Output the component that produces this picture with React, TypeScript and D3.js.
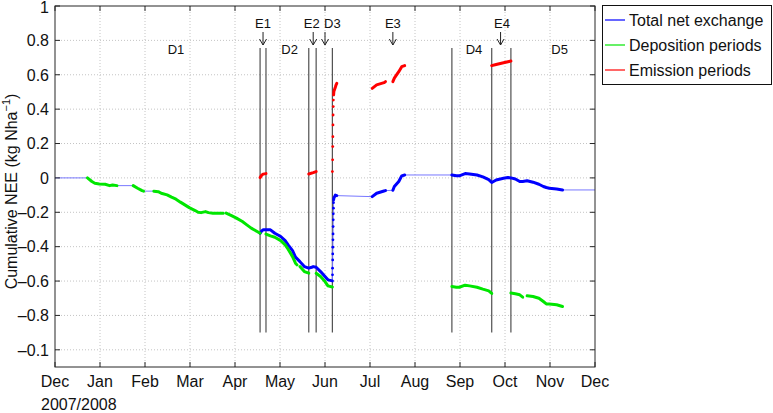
import * as d3 from "d3";
import { useEffect, useRef } from "react";

type Pt = [string, number];

const monthLabels = ["Dec", "Jan", "Feb", "Mar", "Apr", "May", "Jun", "Jul", "Aug", "Sep", "Oct", "Nov", "Dec"];
const yTicks = [1, 0.8, 0.6, 0.4, 0.2, 0, -0.2, -0.4, -0.6, -0.8, -1];
const yTickLabels = ["1", "0.8", "0.6", "0.4", "0.2", "0", "–0.2", "–0.4", "–0.6", "–0.8", "–0.1"];

const totalStart: Pt = ["2007-12-01", 0];
const totalEnd: Pt = ["2008-12-01", -0.07];

// D1: no emission yet, total == deposition
const winterDeposition: Pt[][] = [
  [["2007-12-23", 0], ["2007-12-26", -0.021], ["2007-12-28", -0.031], ["2007-12-31", -0.035], ["2008-01-04", -0.037], ["2008-01-07", -0.045], ["2008-01-09", -0.041], ["2008-01-12", -0.045]],
  [["2008-01-23", -0.045], ["2008-01-26", -0.06], ["2008-01-29", -0.074], ["2008-01-30", -0.077]],
  [["2008-02-06", -0.077], ["2008-02-09", -0.08], ["2008-02-11", -0.089], ["2008-02-15", -0.099], ["2008-02-18", -0.112], ["2008-02-21", -0.124], ["2008-02-24", -0.141], ["2008-02-27", -0.157], ["2008-03-01", -0.173], ["2008-03-05", -0.19], ["2008-03-07", -0.2], ["2008-03-09", -0.202], ["2008-03-12", -0.196], ["2008-03-14", -0.202], ["2008-03-17", -0.205], ["2008-03-22", -0.205], ["2008-03-24", -0.205]],
  [["2008-03-26", -0.205], ["2008-03-30", -0.221], ["2008-04-02", -0.234], ["2008-04-06", -0.254], ["2008-04-09", -0.273], ["2008-04-12", -0.292], ["2008-04-16", -0.312], ["2008-04-18", -0.322]],
];

const laterDeposition: Pt[][] = [
  [["2008-04-22", -0.327], ["2008-04-25", -0.337], ["2008-04-28", -0.345], ["2008-05-02", -0.365], ["2008-05-05", -0.39], ["2008-05-07", -0.415], ["2008-05-10", -0.458], ["2008-05-12", -0.496], ["2008-05-13", -0.506]],
  [["2008-05-15", -0.516], ["2008-05-18", -0.545], ["2008-05-21", -0.554]],
  [["2008-05-26", -0.555], ["2008-05-29", -0.574], ["2008-06-01", -0.603], ["2008-06-03", -0.628], ["2008-06-06", -0.635]],
  [["2008-08-26", -0.632], ["2008-08-29", -0.636], ["2008-08-31", -0.636], ["2008-09-04", -0.624], ["2008-09-07", -0.628], ["2008-09-12", -0.636], ["2008-09-16", -0.647], ["2008-09-20", -0.657], ["2008-09-22", -0.672]],
  [["2008-10-05", -0.67], ["2008-10-08", -0.674], ["2008-10-11", -0.68], ["2008-10-13", -0.694]],
  [["2008-10-16", -0.686], ["2008-10-20", -0.69], ["2008-10-24", -0.7], ["2008-10-27", -0.719], ["2008-10-29", -0.733], ["2008-10-31", -0.734], ["2008-11-05", -0.738], ["2008-11-09", -0.748]],
];

const emissionSegments: Pt[][] = [
  [["2008-04-18", 0.002], ["2008-04-19", 0.015], ["2008-04-20", 0.022], ["2008-04-22", 0.025]],
  [["2008-05-21", 0.023], ["2008-05-24", 0.031], ["2008-05-26", 0.037]],
  [["2008-06-06T20", 0.483], ["2008-06-07", 0.502], ["2008-06-08", 0.527], ["2008-06-08T12", 0.541], ["2008-06-09", 0.55]],
  [["2008-07-03", 0.521], ["2008-07-06", 0.541], ["2008-07-11", 0.554], ["2008-07-12", 0.56]],
  [["2008-07-17", 0.56], ["2008-07-18", 0.58], ["2008-07-21", 0.618], ["2008-07-23", 0.647], ["2008-07-25", 0.653]],
  [["2008-09-22", 0.653], ["2008-09-25", 0.66], ["2008-09-30", 0.67], ["2008-10-03", 0.676], ["2008-10-05", 0.68]],
];

// sparse half-hourly samples during the June burst
const emissionJump: Pt[] = [
  ["2008-06-06T00", 0.037], ["2008-06-06T04", 0.105], ["2008-06-06T06", 0.182], ["2008-06-06T08", 0.24],
  ["2008-06-06T10", 0.308], ["2008-06-06T12", 0.366], ["2008-06-06T14", 0.415], ["2008-06-06T16", 0.453],
];

const totalSegments: Pt[][] = [
  [["2008-04-18", -0.322], ["2008-04-19", -0.31], ["2008-04-20", -0.302], ["2008-04-22", -0.302], ["2008-04-25", -0.302], ["2008-04-28", -0.322], ["2008-05-02", -0.341], ["2008-05-05", -0.365], ["2008-05-07", -0.39], ["2008-05-10", -0.423], ["2008-05-12", -0.461], ["2008-05-15", -0.487], ["2008-05-18", -0.516], ["2008-05-21", -0.525], ["2008-05-23", -0.52], ["2008-05-24", -0.516], ["2008-05-26", -0.52], ["2008-05-29", -0.545], ["2008-06-01", -0.574], ["2008-06-03", -0.593], ["2008-06-06", -0.599]],
  [["2008-06-06T20", -0.128], ["2008-06-07", -0.118], ["2008-06-08", -0.1], ["2008-06-09", -0.103]],
  [["2008-07-03", -0.109], ["2008-07-06", -0.089], ["2008-07-11", -0.076], ["2008-07-12", -0.074]],
  [["2008-07-17", -0.072], ["2008-07-18", -0.05], ["2008-07-21", -0.021], ["2008-07-23", 0.012], ["2008-07-25", 0.017]],
  [["2008-08-26", 0.017], ["2008-08-29", 0.012], ["2008-08-31", 0.012], ["2008-09-04", 0.025], ["2008-09-07", 0.023], ["2008-09-12", 0.017], ["2008-09-16", 0.006], ["2008-09-20", -0.01], ["2008-09-22", -0.027], ["2008-09-25", -0.012], ["2008-09-30", -0.002], ["2008-10-03", 0.002], ["2008-10-05", 0], ["2008-10-08", -0.006], ["2008-10-11", -0.021], ["2008-10-13", -0.021], ["2008-10-16", -0.017], ["2008-10-20", -0.025], ["2008-10-24", -0.037], ["2008-10-27", -0.05], ["2008-10-29", -0.056], ["2008-10-31", -0.06], ["2008-11-05", -0.064], ["2008-11-09", -0.07]],
];

const totalJump: Pt[] = [
  ["2008-06-06T02", -0.564], ["2008-06-06T03", -0.525], ["2008-06-06T05", -0.477], ["2008-06-06T06", -0.442],
  ["2008-06-06T08", -0.403], ["2008-06-06T09", -0.36], ["2008-06-06T11", -0.326], ["2008-06-06T12", -0.283],
  ["2008-06-06T14", -0.244], ["2008-06-06T15", -0.209], ["2008-06-06T17", -0.176], ["2008-06-06T18", -0.144],
];

const boundaries = ["2008-04-18", "2008-04-22", "2008-05-21", "2008-05-26", "2008-06-06", "2008-08-26", "2008-09-22", "2008-10-05"];
const boundaryRange = [0.755, -0.9];

const eventLabels = [
  { text: "E1", at: "2008-04-20", arrow: "2008-04-20" },
  { text: "E2", at: "2008-05-23", arrow: "2008-05-24" },
  { text: "D3", at: "2008-06-06", arrow: "2008-06-01" },
  { text: "E3", at: "2008-07-17", arrow: "2008-07-17" },
  { text: "E4", at: "2008-09-29", arrow: "2008-09-28" },
];
const periodLabels = [
  { text: "D1", at: "2008-02-21" },
  { text: "D2", at: "2008-05-08" },
  { text: "D4", at: "2008-09-10" },
  { text: "D5", at: "2008-11-07" },
];

const legendItems = [
  { label: "Total net exchange", color: "#0000ff" },
  { label: "Deposition periods", color: "#00e600" },
  { label: "Emission periods", color: "#ff0000" },
];

const parseDay = d3.timeParse("%Y-%m-%d");
const parseHour = d3.timeParse("%Y-%m-%dT%H");
const parse = (s: string) => (s.length > 10 ? parseHour(s) : parseDay(s))!;

const FONT = "'Liberation Sans', Arial, Helvetica, sans-serif";

export default function App() {
  const ref = useRef<SVGSVGElement | null>(null);

  useEffect(() => {
    if (!ref.current) return;
    const svg = d3.select(ref.current);
    svg.selectAll("*").remove();

    const W = 773, H = 413;
    const margin = { top: 6, right: 178, bottom: 46, left: 55 };
    const x0 = margin.left, x1 = W - margin.right;
    const y0 = margin.top, y1 = H - margin.bottom;

    svg.attr("width", W).attr("height", H).style("font-family", FONT);

    const start = parse(totalStart[0]);
    const end = parse(totalEnd[0]);
    const x = d3.scaleTime().domain([start, end]).range([x0, x1]);
    const y = d3.scaleLinear().domain([-1.1, 1]).range([y1, y0]);

    const step = (end.getTime() - start.getTime()) / (monthLabels.length - 1);
    const xTicks = monthLabels.map((_, i) => new Date(start.getTime() + i * step));

    const line = d3
      .line<Pt>()
      .x((d) => x(parse(d[0])))
      .y((d) => y(d[1]));

    // grid
    const grid = svg.append("g").attr("stroke", "#c4c4c4").attr("stroke-dasharray", "1,2").attr("stroke-width", 1);
    xTicks.slice(1, -1).forEach((t) => {
      grid.append("line").attr("x1", x(t)).attr("x2", x(t)).attr("y1", y0).attr("y2", y1);
    });
    yTicks.forEach((v) => {
      if (y(v) <= y0 + 1) return;
      grid.append("line").attr("x1", x0).attr("x2", x1).attr("y1", y(v)).attr("y2", y(v));
    });

    // period boundaries
    svg
      .append("g")
      .selectAll("line")
      .data(boundaries)
      .enter()
      .append("line")
      .attr("x1", (d) => x(parse(d)))
      .attr("x2", (d) => x(parse(d)))
      .attr("y1", y(boundaryRange[0]))
      .attr("y2", y(boundaryRange[1]))
      .attr("stroke", "#505050")
      .attr("stroke-width", 1.2);

    // thin interpolated total line
    const thin = [totalStart, ...winterDeposition.flat(), ...totalSegments.flat(), ...totalJump, totalEnd].sort(
      (a, b) => parse(a[0]).getTime() - parse(b[0]).getTime()
    );
    svg.append("path").attr("d", line(thin)).attr("fill", "none").attr("stroke", "#7878ff").attr("stroke-width", 1);

    const drawSegments = (segs: Pt[][], color: string) => {
      svg
        .append("g")
        .selectAll("path")
        .data(segs)
        .enter()
        .append("path")
        .attr("d", (d) => line(d))
        .attr("fill", "none")
        .attr("stroke", color)
        .attr("stroke-width", 3)
        .attr("stroke-linecap", "round")
        .attr("stroke-linejoin", "round");
    };
    const drawDots = (pts: Pt[], color: string) => {
      svg
        .append("g")
        .selectAll("circle")
        .data(pts)
        .enter()
        .append("circle")
        .attr("cx", (d) => x(parse(d[0])))
        .attr("cy", (d) => y(d[1]))
        .attr("r", 1.4)
        .attr("fill", color);
    };

    drawSegments(totalSegments, legendItems[0].color);
    drawDots(totalJump, legendItems[0].color);
    drawSegments(winterDeposition, legendItems[1].color);
    drawSegments(laterDeposition, legendItems[1].color);
    drawSegments(emissionSegments, legendItems[2].color);
    drawDots(emissionJump, legendItems[2].color);

    // annotations
    const ann = svg.append("g").attr("font-size", 13).attr("fill", "#111").attr("text-anchor", "middle");
    eventLabels.forEach((e) => {
      ann.append("text").attr("x", x(parse(e.at))).attr("y", y0 + 22).text(e.text);
      const ax = x(parse(e.arrow));
      ann
        .append("path")
        .attr("d", `M${ax},${y0 + 26}V${y0 + 39}M${ax - 3.5},${y0 + 33}L${ax},${y0 + 39}L${ax + 3.5},${y0 + 33}`)
        .attr("fill", "none")
        .attr("stroke", "#222")
        .attr("stroke-width", 1);
    });
    periodLabels.forEach((p) => {
      ann.append("text").attr("x", x(parse(p.at))).attr("y", y0 + 48).text(p.text);
    });

    // axes box + ticks
    const axis = svg.append("g").attr("stroke", "#262626").attr("stroke-width", 1);
    axis.append("rect").attr("x", x0).attr("y", y0).attr("width", x1 - x0).attr("height", y1 - y0).attr("fill", "none");
    const tl = 5;
    xTicks.forEach((t) => {
      axis.append("line").attr("x1", x(t)).attr("x2", x(t)).attr("y1", y1).attr("y2", y1 - tl);
      axis.append("line").attr("x1", x(t)).attr("x2", x(t)).attr("y1", y0).attr("y2", y0 + tl);
    });
    yTicks.forEach((v) => {
      axis.append("line").attr("x1", x0).attr("x2", x0 + tl).attr("y1", y(v)).attr("y2", y(v));
      axis.append("line").attr("x1", x1).attr("x2", x1 - tl).attr("y1", y(v)).attr("y2", y(v));
    });

    const labels = svg.append("g").attr("font-size", 16).attr("fill", "#111");
    yTicks.forEach((v, i) => {
      labels
        .append("text")
        .attr("x", x0 - 6)
        .attr("y", Math.max(y(v), 7.5))
        .attr("dy", "0.36em")
        .attr("text-anchor", "end")
        .text(yTickLabels[i]);
    });
    xTicks.forEach((t, i) => {
      labels.append("text").attr("x", x(t)).attr("y", y1 + 20).attr("text-anchor", "middle").text(monthLabels[i]);
    });
    labels.append("text").attr("x", 41).attr("y", H - 3).text("2007/2008");

    const yl = labels
      .append("text")
      .attr("transform", `translate(17,${(y0 + y1) / 2 + 5}) rotate(-90)`)
      .attr("text-anchor", "middle");
    yl.append("tspan").text("Cumulative NEE (kg Nha");
    yl.append("tspan").attr("font-size", 11).attr("dy", -7).text("−1");
    yl.append("tspan").attr("dy", 7).text(")");

    // legend
    const lg = svg.append("g");
    lg.append("rect")
      .attr("x", 602.5)
      .attr("y", 5.5)
      .attr("width", 169)
      .attr("height", 79)
      .attr("fill", "#fff")
      .attr("stroke", "#111")
      .attr("stroke-width", 1);
    legendItems.forEach((it, i) => {
      const ly = 20 + i * 25;
      lg.append("line").attr("x1", 605).attr("x2", 625).attr("y1", ly).attr("y2", ly).attr("stroke", it.color).attr("stroke-width", 1.2);
      lg.append("text").attr("x", 629).attr("y", ly).attr("dy", "0.36em").attr("font-size", 16).attr("fill", "#111").text(it.label);
    });
  }, []);

  return <svg ref={ref} style={{ position: "absolute", left: 0, top: 0 }}></svg>;
}
